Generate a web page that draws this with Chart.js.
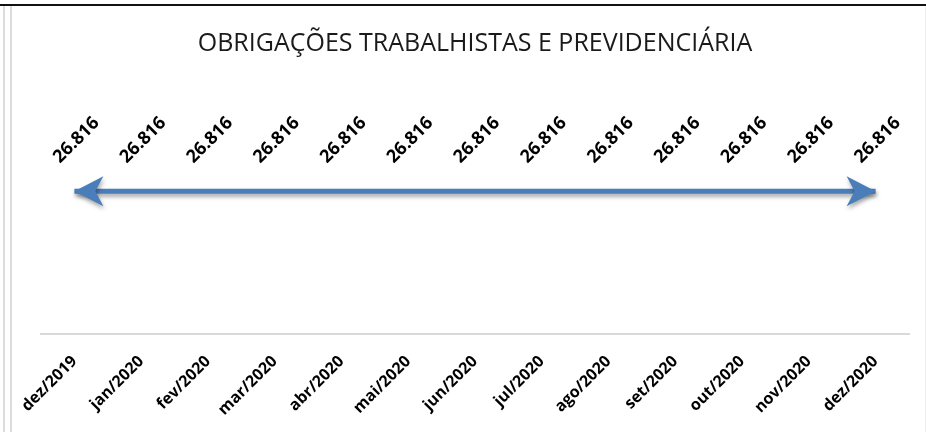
<!DOCTYPE html>
<html>
<head>
<meta charset="utf-8">
<script src="https://cdn.jsdelivr.net/npm/chart.js@4"></script>
<style>
  html, body { margin: 0; padding: 0; background: #ffffff; }
  #wrap { width: 926px; height: 432px; position: relative; }
</style>
</head>
<body>
<div id="wrap"><canvas id="c" width="926" height="432"></canvas></div>
<script>
const categories = ["dez/2019","jan/2020","fev/2020","mar/2020","abr/2020","mai/2020","jun/2020","jul/2020","ago/2020","set/2020","out/2020","nov/2020","dez/2020"];
const values = [26816,26816,26816,26816,26816,26816,26816,26816,26816,26816,26816,26816,26816];
const chartTitle = "OBRIGAÇÕES TRABALHISTAS E PREVIDENCIÁRIA";

function fmtBR(v) {
  return String(Math.round(v)).replace(/\B(?=(\d{3})+(?!\d))/g, ".");
}

const LINE_COLOR = "#4A7EBB";

const framePlugin = {
  id: "frame",
  beforeDraw(chart) {
    const ctx = chart.ctx;
    ctx.save();
    ctx.fillStyle = "#ffffff";
    ctx.fillRect(0, 0, chart.width, chart.height);
    ctx.strokeStyle = "#dcdcdc";
    ctx.lineWidth = 2;
    ctx.beginPath(); ctx.moveTo(4, 6); ctx.lineTo(4, chart.height); ctx.stroke();
    ctx.beginPath(); ctx.moveTo(11, 6); ctx.lineTo(11, chart.height); ctx.stroke();
    ctx.strokeStyle = "#f0f0f0";
    ctx.lineWidth = 1;
    ctx.beginPath(); ctx.moveTo(925.5, 6); ctx.lineTo(925.5, chart.height); ctx.stroke();
    ctx.fillStyle = "#111111";
    ctx.fillRect(0, 4, chart.width, 2);
    ctx.restore();
  }
};

const shadowPlugin = {
  id: "lineShadow",
  beforeDatasetsDraw(chart) {
    const ctx = chart.ctx;
    ctx.save();
    ctx.shadowColor = "rgba(0,0,0,0.35)";
    ctx.shadowBlur = 4;
    ctx.shadowOffsetX = 1;
    ctx.shadowOffsetY = 3;
  },
  afterDatasetsDraw(chart) {
    const ctx = chart.ctx;
    const meta = chart.getDatasetMeta(0);
    const pts = meta.data;
    function arrow(x, y, dir) {
      const L = 29, W = 15, N = 21;
      ctx.beginPath();
      ctx.moveTo(x, y);
      ctx.lineTo(x - dir * L, y - W);
      ctx.lineTo(x - dir * N, y);
      ctx.lineTo(x - dir * L, y + W);
      ctx.closePath();
      ctx.fillStyle = LINE_COLOR;
      ctx.fill();
    }
    if (pts.length > 1) {
      arrow(pts[0].x, pts[0].y, -1);
      arrow(pts[pts.length - 1].x, pts[pts.length - 1].y, 1);
    }
    ctx.restore();

    ctx.save();
    ctx.font = "bold 18px 'Open Sans'";
    ctx.fillStyle = "#000000";
    ctx.textAlign = "center";
    ctx.textBaseline = "middle";
    pts.forEach((p, i) => {
      ctx.save();
      ctx.translate(p.x + 2, p.y - 51);
      ctx.rotate(-Math.PI / 4);
      ctx.fillText(fmtBR(values[i]), 0, 0);
      ctx.restore();
    });
    ctx.restore();
  }
};

new Chart(document.getElementById("c"), {
  type: "line",
  data: {
    labels: categories,
    datasets: [{
      data: values,
      borderColor: LINE_COLOR,
      borderWidth: 5,
      pointRadius: 0,
      pointHoverRadius: 0,
      tension: 0,
      fill: false
    }]
  },
  options: {
    responsive: false,
    animation: false,
    events: [],
    layout: { padding: { left: 41, right: 17, top: 0, bottom: 0 } },
    plugins: {
      legend: { display: false },
      tooltip: { enabled: false },
      title: {
        display: true,
        text: chartTitle,
        color: "#1a1a1a",
        font: { family: "'Open Sans'", size: 25, weight: "normal" },
        padding: { top: 29, bottom: 62 }
      }
    },
    scales: {
      x: {
        offset: true,
        grid: { display: false },
        border: { display: true, color: "#d9d9d9", width: 2 },
        ticks: {
          autoSkip: false,
          minRotation: 45,
          maxRotation: 45,
          padding: 10,
          color: "#000000",
          font: { family: "'Open Sans'", size: 16, weight: "bold" }
        },
        afterFit(scale) { scale.height = 98; }
      },
      y: {
        display: false,
        min: 0,
        max: 40000
      }
    }
  },
  plugins: [framePlugin, shadowPlugin]
});
</script>
</body>
</html>
